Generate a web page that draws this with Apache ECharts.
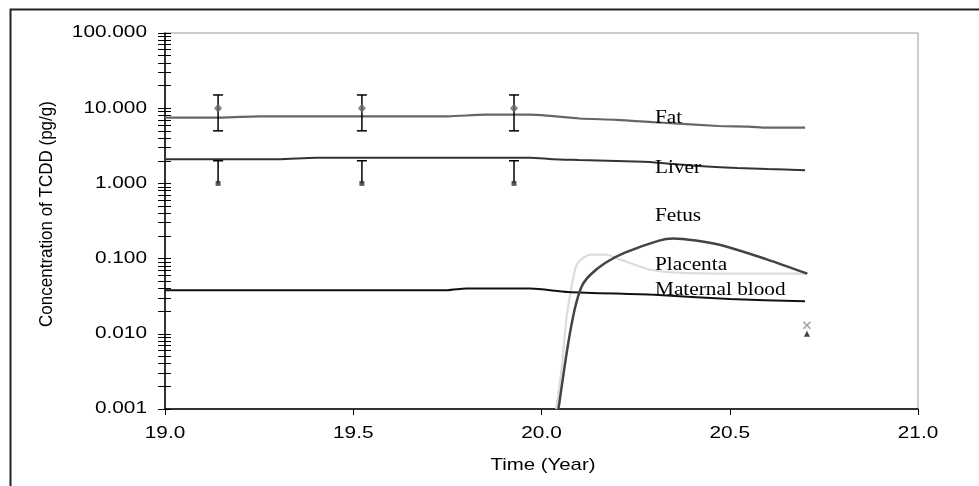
<!DOCTYPE html>
<html>
<head>
<meta charset="utf-8">
<script src="https://cdn.jsdelivr.net/npm/echarts@6/dist/echarts.min.js"></script>
<style>html,body{margin:0;padding:0;background:#fff;}#c{width:979px;height:486px;}</style>
</head>
<body>
<div id="c"></div>
<script>
// ---- data (time in years, concentration in pg/g) ----
var fatModel = [[19.0,7.5],[19.15,7.5],[19.25,7.8],[19.75,7.8],[19.85,8.2],[19.97,8.2],[20.1,7.3],[20.2,7.0],[20.3,6.5],[20.47,5.8],[20.55,5.7],[20.6,5.5],[20.7,5.5]];
var liverModel = [[19.0,2.1],[19.3,2.1],[19.4,2.2],[19.97,2.2],[20.03,2.1],[20.1,2.05],[20.2,1.98],[20.3,1.9],[20.42,1.7],[20.52,1.6],[20.6,1.55],[20.7,1.5]];
var maternalModel = [[19.0,0.038],[19.75,0.038],[19.8,0.040],[19.97,0.040],[20.07,0.036],[20.3,0.033],[20.5,0.029],[20.7,0.027]];
var fetusModel = [[20.045,0.001],[20.07,0.007],[20.089,0.022],[20.107,0.043],[20.13,0.061],[20.17,0.088],[20.22,0.119],[20.31,0.172],[20.35,0.185],[20.47,0.154],[20.6,0.097],[20.706,0.063]];
var placentaModel = [[20.039,0.001],[20.055,0.004],[20.067,0.017],[20.089,0.071],[20.10,0.092],[20.13,0.113],[20.17,0.113],[20.21,0.097],[20.29,0.071],[20.36,0.065],[20.5,0.063],[20.706,0.063]];
// observations: [time, mean, low, high]
var fatObs = [[19.141,10,5,15],[19.523,10,5,15],[19.927,10,5,15]];
var liverObs = [[19.141,1,0,2],[19.523,1,0,2],[19.927,1,0,2]];
var fetusObs = [[20.705,0.013]];
var placentaObs = [[20.705,0.010]];
var xTicks = [19.0,19.5,20.0,20.5,21.0];
var yTicks = [0.001,0.01,0.1,1,10,100];
var curveLabels = ['Fat','Liver','Fetus','Placenta','Maternal blood'];

var chart = echarts.init(document.getElementById('c'), null, {renderer:'canvas'});
var SANS = 'Liberation Sans, Arial, sans-serif';
var SERIF = 'Liberation Serif, Times New Roman, serif';

function errRender(params, api){
  var x = api.value(0), mean = api.value(1), low = api.value(2), high = api.value(3);
  var pH = api.coord([x, high]);
  var pL = low > 0 ? api.coord([x, low]) : api.coord([x, mean]);
  var st = {stroke:'#000', lineWidth:1.5};
  var ch = [
    {type:'line', shape:{x1:pH[0],y1:pH[1],x2:pL[0],y2:pL[1]}, style:st},
    {type:'line', shape:{x1:pH[0]-5,y1:pH[1],x2:pH[0]+5,y2:pH[1]}, style:st}
  ];
  if (low > 0) ch.push({type:'line', shape:{x1:pL[0]-5,y1:pL[1],x2:pL[0]+5,y2:pL[1]}, style:st});
  return {type:'group', children:ch};
}

function lineSeries(name, data, color, width, z){
  return {name:name, type:'line', data:data, showSymbol:false, symbol:'none', smooth:0.25,
    lineStyle:{color:color, width:width}, z:z, clip:true, silent:true};
}

var yBase = {type:'log', logBase:10, min:yTicks[0], max:yTicks[yTicks.length-1], position:'left',
  splitLine:{show:false}, axisLabel:{show:false}};

chart.setOption({
  animation:false,
  grid:{left:165, right:61, top:33, bottom:77, show:true, borderColor:'#999', borderWidth:1},
  xAxis:{type:'value', min:xTicks[0], max:xTicks[xTicks.length-1], interval:0.5,
    axisLine:{lineStyle:{color:'#000', width:1.5}},
    axisTick:{show:true, length:6, lineStyle:{color:'#000'}},
    splitLine:{show:false}, axisLabel:{show:false}
  },
  yAxis:[
    Object.assign({}, yBase, {
      axisLine:{show:true, lineStyle:{color:'#000', width:1.5}},
      axisTick:{show:true, length:7, lineStyle:{color:'#000'}},
      minorTick:{show:true, splitNumber:9, length:7, lineStyle:{color:'#000'}}
    }),
    Object.assign({}, yBase, {
      axisLine:{show:false},
      axisTick:{show:true, inside:true, length:6, lineStyle:{color:'#000'}},
      minorTick:{show:true, splitNumber:9, length:6, lineStyle:{color:'#000'}}
    })
  ],
  series:[
    lineSeries('Maternal blood', maternalModel, '#111', 2, 3),
    lineSeries('Placenta', placentaModel, '#dcdcdc', 2.2, 2),
    lineSeries('Fetus', fetusModel, '#444', 2.5, 4),
    lineSeries('Liver', liverModel, '#333', 2, 3),
    lineSeries('Fat', fatModel, '#666', 2.2, 3),
    {name:'Fat error', type:'custom', renderItem:errRender, data:fatObs, z:5, encode:{x:0,y:[1,2,3]}},
    {name:'Liver error', type:'custom', renderItem:errRender, data:liverObs, z:5, encode:{x:0,y:[1,2,3]}},
    {name:'Fat observed', type:'scatter', data:fatObs.map(function(d){return [d[0],d[1]];}), symbol:'diamond', symbolSize:[8,9], itemStyle:{color:'#666'}, z:6},
    {name:'Liver observed', type:'scatter', data:liverObs.map(function(d){return [d[0],d[1]];}), symbol:'rect', symbolSize:5, itemStyle:{color:'#333'}, z:6},
    {name:'Fetus observed', type:'scatter', data:fetusObs, symbol:'path://M0,0L10,10M10,0L0,10', symbolSize:7, itemStyle:{color:'none', borderColor:'#888', borderWidth:1.5}, z:6},
    {name:'Placenta observed', type:'scatter', data:placentaObs, symbol:'triangle', symbolSize:6, itemStyle:{color:'#111'}, z:6}
  ]
});

// Axis tick labels placed through the axes' own scales (text is horizontally stretched in the reference)
var axisX = chart.convertToPixel({xAxisIndex:0}, xTicks[0]);
var axisY = chart.convertToPixel({yAxisIndex:0}, yTicks[0]);
var g = [
  {type:'rect', left:8, top:7, shape:{width:1000, height:500}, style:{fill:'none', stroke:'#222', lineWidth:2}, silent:true},
  {type:'text', x:47, y:214, rotation:Math.PI/2, scaleY:1.1, style:{text:'Concentration of TCDD (pg/g)', font:'17px ' + SANS, fill:'#000', align:'center', verticalAlign:'middle'}},
  {type:'text', x:543, y:465, scaleX:1.2, style:{text:'Time (Year)', font:'17px ' + SANS, fill:'#000', align:'center', verticalAlign:'middle'}}
];
yTicks.forEach(function(v){
  g.push({type:'text', x:axisX - 18, y:chart.convertToPixel({yAxisIndex:0}, v), scaleX:1.3,
    style:{text:v.toFixed(3), font:'16px ' + SANS, fill:'#000', align:'right', verticalAlign:'middle'}});
});
xTicks.forEach(function(v){
  g.push({type:'text', x:chart.convertToPixel({xAxisIndex:0}, v), y:axisY + 17, scaleX:1.3,
    style:{text:v.toFixed(1), font:'16px ' + SANS, fill:'#000', align:'center', verticalAlign:'top'}});
});
var labelY = [118,168,216,265,290];
curveLabels.forEach(function(t, i){
  g.push({type:'text', x:655, y:labelY[i], scaleX:1.12, z:10,
    style:{text:t, font:'19px ' + SERIF, fill:'#000', align:'left', verticalAlign:'middle'}});
});
chart.setOption({graphic:g});
</script>
</body>
</html>
